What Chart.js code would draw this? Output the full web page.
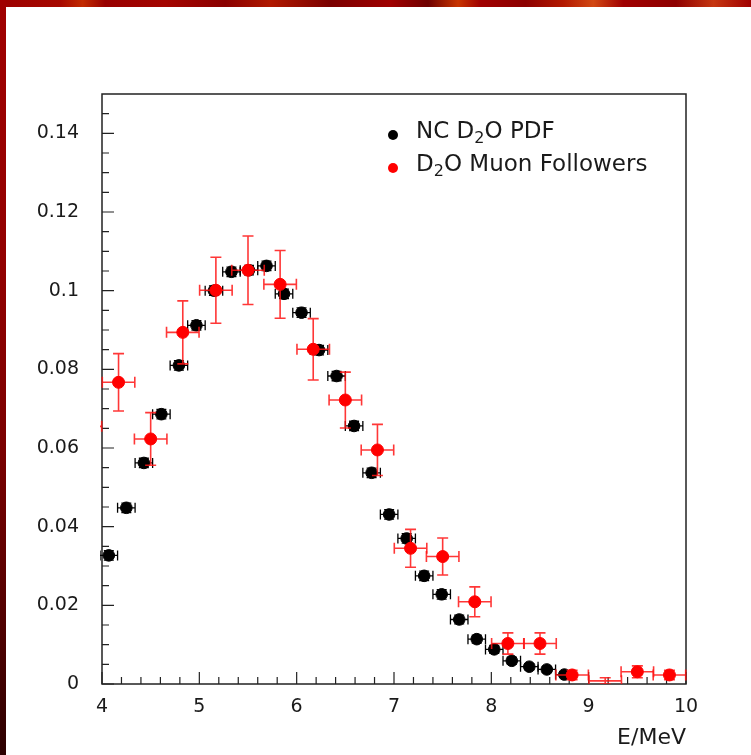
<!DOCTYPE html>
<html>
<head>
<meta charset="utf-8">
<title>NC D2O PDF vs D2O muon followers</title>
<script src="https://cdn.jsdelivr.net/npm/chart.js@4.4.1/dist/chart.umd.min.js"></script>
<style>
  html, body { margin: 0; padding: 0; background: #fff; }
  #page { position: relative; width: 751px; height: 755px; overflow: hidden; background: #fff; }
  #topEdge {
    position: absolute; left: 0; top: 0; width: 751px; height: 7px;
    background: linear-gradient(90deg, #9c0000 0%, #a60800 8%, #c22a00 11%, #980000 14%, #a40400 22%,
      #8a0000 30%, #b01800 36%, #7a0000 44%, #a00000 52%, #6e0000 57%, #c83400 61%, #a00000 64%,
      #8c0000 70%, #b31800 75%, #d24812 79%, #a00000 83%, #8e0000 90%, #c63610 95%, #a00000 100%);
  }
  #leftEdge {
    position: absolute; left: 0; top: 0; width: 6px; height: 755px;
    background: linear-gradient(180deg, #a00000 0%, #920000 35%, #7a0000 60%, #520000 82%, #2c0000 100%);
  }
  canvas { position: absolute; left: 0; top: 0; }
</style>
</head>
<body>
<div id="page">
  <div id="topEdge"></div>
  <div id="leftEdge"></div>
  <canvas id="spectrum" width="751" height="755"></canvas>
</div>
<script>
// NC D2O PDF (fine bins)
const ncX = [4.07, 4.25, 4.43, 4.61, 4.79, 4.97, 5.15, 5.33, 5.51, 5.69, 5.87, 6.05, 6.23, 6.41,
             6.59, 6.77, 6.95, 7.13, 7.31, 7.49, 7.67, 7.85, 8.03, 8.21, 8.39, 8.57, 8.75];
const ncY = [0.0327, 0.0448, 0.0562, 0.0686, 0.0810, 0.0912, 0.1000, 0.1048, 0.1052, 0.1063, 0.0992,
             0.0944, 0.0849, 0.0783, 0.0656, 0.0537, 0.0431, 0.0370, 0.0275, 0.0228, 0.0164, 0.0114,
             0.0088, 0.0059, 0.0044, 0.0037, 0.0024];
const ncErrY = [0.0012, 0.0012, 0.0012, 0.0012, 0.0012, 0.0012, 0.0012, 0.0012, 0.0012, 0.0012, 0.0012,
                0.0012, 0.0012, 0.0012, 0.0012, 0.0012, 0.0012, 0.0012, 0.0012, 0.0012, 0.0011, 0.0010,
                0.0010, 0.0009, 0.0008, 0.0008, 0.0007];
const ncHalfWidth = 0.09;

// D2O muon followers (1/3 MeV bins)
const muX = [3.83, 4.17, 4.50, 4.83, 5.17, 5.50, 5.83, 6.17, 6.50, 6.83, 7.17, 7.50, 7.83, 8.17,
             8.50, 8.83, 9.17, 9.50, 9.83];
const muY = [0.0655, 0.0767, 0.0623, 0.0894, 0.1001, 0.1052, 0.1016, 0.0851, 0.0722, 0.0595, 0.0345,
             0.0324, 0.0209, 0.0103, 0.0103, 0.0023, 0.0008, 0.0031, 0.0023];
const muErrY = [0.0068, 0.0073, 0.0067, 0.0080, 0.0084, 0.0087, 0.0086, 0.0078, 0.0071, 0.0065, 0.0048,
                0.0047, 0.0038, 0.0027, 0.0027, 0.0012, 0.0008, 0.0015, 0.0012];
const muHalfWidth = 0.167;

const xTicks = [4, 5, 6, 7, 8, 9, 10];
const yTicks = [0, 0.02, 0.04, 0.06, 0.08, 0.1, 0.12, 0.14];

const FONT = '"DejaVu Sans", "Liberation Sans", sans-serif';
const INK = '#1a1a1a';

function toPoints(xs, ys, errs, half) {
    return xs.map((x, i) => ({ x: x, y: ys[i], ex: half, ey: errs[i] }));
}

// frame with inward ticks, drawn under the data
const frameTicks = {
    id: 'frameTicks',
    beforeDatasetsDraw(chart) {
        const { ctx, chartArea: a, scales: { x, y } } = chart;
        ctx.save();
        ctx.strokeStyle = '#222';
        ctx.lineWidth = 1.5;
        ctx.strokeRect(a.left, a.top, a.right - a.left, a.bottom - a.top);

        ctx.lineWidth = 1.2;
        ctx.beginPath();
        // y axis: major every 0.02, minor every 0.005
        for (let i = 0; i < yTicks.length; i++) {
            const py = y.getPixelForValue(yTicks[i]);
            ctx.moveTo(a.left, py); ctx.lineTo(a.left + 12, py);
            for (let k = 1; k < 4; k++) {
                const v = yTicks[i] + k * 0.005;
                if (v > y.max) break;
                const q = y.getPixelForValue(v);
                ctx.moveTo(a.left, q); ctx.lineTo(a.left + 7, q);
            }
        }
        // x axis: major every 1, minor every 0.2
        for (let i = 0; i < xTicks.length; i++) {
            const px = x.getPixelForValue(xTicks[i]);
            ctx.moveTo(px, a.bottom); ctx.lineTo(px, a.bottom - 12);
            if (i < xTicks.length - 1) {
                for (let k = 1; k < 5; k++) {
                    const q = x.getPixelForValue(xTicks[i] + k * 0.2);
                    ctx.moveTo(q, a.bottom); ctx.lineTo(q, a.bottom - 7);
                }
            }
        }
        ctx.stroke();
        ctx.restore();
    }
};

// horizontal and vertical error bars with end caps
const errorBars = {
    id: 'errorBars',
    beforeDatasetDraw(chart, args) {
        const ds = chart.data.datasets[args.index];
        const { ctx, chartArea: a, scales: { x, y } } = chart;
        const cap = ds.capSize;
        ctx.save();
        ctx.beginPath();
        ctx.rect(a.left - 2, a.top, a.right - a.left + 4, a.bottom - a.top);
        ctx.clip();
        ctx.strokeStyle = ds.errorColor;
        ctx.lineWidth = ds.errorWidth;
        ds.data.forEach(p => {
            const px = x.getPixelForValue(p.x);
            const py = y.getPixelForValue(p.y);
            const x0 = x.getPixelForValue(p.x - p.ex);
            const x1 = x.getPixelForValue(p.x + p.ex);
            const y0 = y.getPixelForValue(p.y - p.ey);
            const y1 = y.getPixelForValue(p.y + p.ey);
            ctx.beginPath();
            ctx.moveTo(x0, py); ctx.lineTo(x1, py);
            ctx.moveTo(px, y0); ctx.lineTo(px, y1);
            ctx.moveTo(x0, py - cap); ctx.lineTo(x0, py + cap);
            ctx.moveTo(x1, py - cap); ctx.lineTo(x1, py + cap);
            ctx.moveTo(px - cap, y0); ctx.lineTo(px + cap, y0);
            ctx.moveTo(px - cap, y1); ctx.lineTo(px + cap, y1);
            ctx.stroke();
        });
        ctx.restore();
    }
};

// writes a label, turning the unicode subscript two into a lowered small "2"
function drawLabel(ctx, text, x, y, size) {
    const parts = text.split('\u2082');
    let cx = x;
    parts.forEach((part, i) => {
        ctx.font = size + 'px ' + FONT;
        ctx.fillText(part, cx, y);
        cx += ctx.measureText(part).width;
        if (i < parts.length - 1) {
            ctx.font = Math.round(size * 0.68) + 'px ' + FONT;
            ctx.fillText('2', cx, y + size * 0.28);
            cx += ctx.measureText('2').width;
        }
    });
}

// legend in the upper right of the frame
const markerLegend = {
    id: 'markerLegend',
    afterDraw(chart) {
        const { ctx, chartArea: a } = chart;
        const rows = [chart.data.datasets[1], chart.data.datasets[0]];
        ctx.save();
        ctx.textBaseline = 'middle';
        ctx.textAlign = 'left';
        rows.forEach((ds, i) => {
            const mx = a.left + 291;
            const my = a.top + 41 + i * 33;
            ctx.beginPath();
            ctx.arc(mx, my, 5, 0, Math.PI * 2);
            ctx.fillStyle = ds.pointBackgroundColor;
            ctx.fill();
            ctx.fillStyle = INK;
            drawLabel(ctx, ds.label, mx + 23, my - 3, 23);
        });
        ctx.restore();
    }
};

new Chart(document.getElementById('spectrum'), {
    type: 'scatter',
    data: {
        datasets: [
            {
                label: 'D\u2082O Muon Followers',
                data: toPoints(muX, muY, muErrY, muHalfWidth),
                order: 0,
                pointBackgroundColor: '#ff0000',
                pointBorderColor: '#ff0000',
                pointRadius: ctx => (ctx.raw && ctx.raw.y < 0.0015 ? 0 : 6),
                errorColor: 'rgba(255, 20, 20, 0.85)',
                errorWidth: 1.6,
                capSize: 5.5
            },
            {
                label: 'NC D\u2082O PDF',
                data: toPoints(ncX, ncY, ncErrY, ncHalfWidth),
                order: 1,
                pointBackgroundColor: '#000',
                pointBorderColor: '#000',
                pointRadius: 5.8,
                errorColor: '#000',
                errorWidth: 1.3,
                capSize: 5
            }
        ]
    },
    options: {
        responsive: false,
        devicePixelRatio: 1,
        animation: false,
        layout: { padding: { top: 94, right: 65, bottom: 0, left: 0 } },
        plugins: { legend: { display: false }, tooltip: { enabled: false } },
        scales: {
            x: {
                type: 'linear',
                min: 4,
                max: 10,
                grid: { display: false },
                border: { display: false },
                afterFit: s => { s.height = 71; },
                afterBuildTicks: s => { s.ticks = xTicks.map(v => ({ value: v })); },
                ticks: {
                    padding: 4,
                    color: INK,
                    font: { family: FONT, size: 19 },
                    maxRotation: 0,
                    callback: v => String(v)
                },
                title: {
                    display: true,
                    text: 'E/MeV',
                    align: 'end',
                    color: INK,
                    font: { family: FONT, size: 22 },
                    padding: { top: 0, bottom: 4 }
                }
            },
            y: {
                type: 'linear',
                min: 0,
                max: 0.15,
                grid: { display: false },
                border: { display: false },
                afterFit: s => { s.width = 102; },
                afterBuildTicks: s => { s.ticks = yTicks.map(v => ({ value: v })); },
                ticks: {
                    padding: 15,
                    color: INK,
                    font: { family: FONT, size: 19 },
                    callback: v => String(+v.toFixed(3))
                }
            }
        }
    },
    plugins: [frameTicks, errorBars, markerLegend]
});
</script>
</body>
</html>
